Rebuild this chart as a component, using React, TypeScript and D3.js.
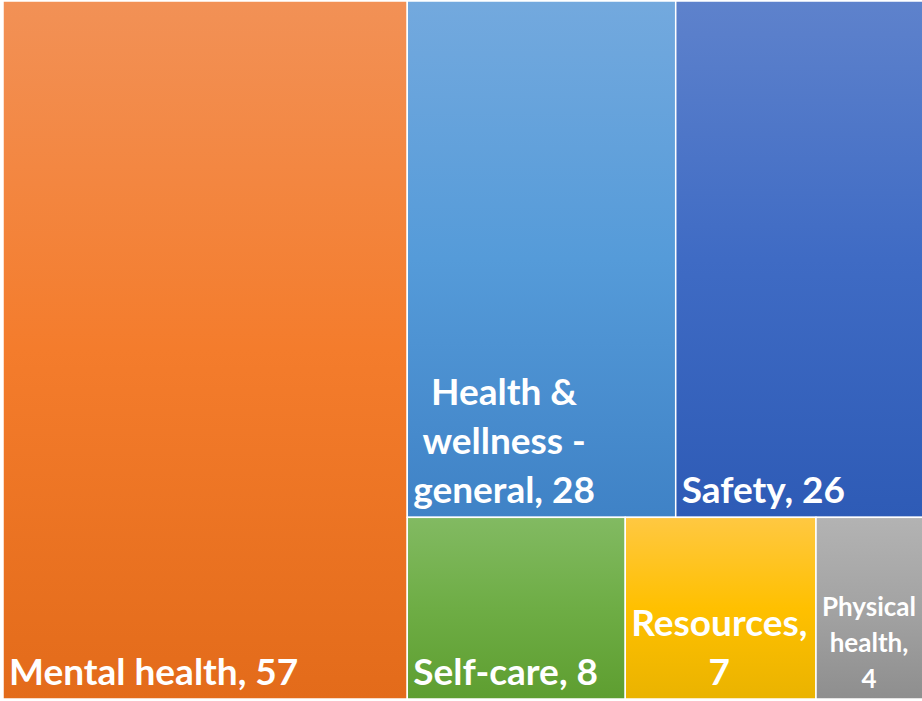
import React, { useEffect, useRef } from "react";
import * as d3 from "d3";

const categories = ["Mental health", "Health & wellness - general", "Safety", "Self-care", "Resources", "Physical health"];
const values = [57, 28, 26, 8, 7, 4];
const groups = ["left", "top", "top", "bottom", "bottom", "bottom"];
const labelLines = [
  ["Mental health, 57"],
  ["Health &", "wellness -", "general, 28"],
  ["Safety, 26"],
  ["Self-care, 8"],
  ["Resources,", "7"],
  ["Physical", "health,", "4"],
];
const gradTop = ["#F29156", "#73A9DE", "#5E82CC", "#82BA62", "#FFC842", "#B3B3B3"];
const gradMid = ["#F47C2C", "#559BD9", "#3F6BC4", "#6EAD45", "#FFC000", "#A3A3A3"];
const gradBot = ["#E36B1A", "#3F82C6", "#2E5BB6", "#5E9E30", "#EAB300", "#8E8E8E"];

const W = 922;
const H = 701;

export default function App() {
  const ref = useRef<SVGSVGElement>(null);
  useEffect(() => {
    const svg = d3.select(ref.current);
    svg.selectAll("*").remove();

    const leaves = categories.map((name, i) => ({ name, value: values[i], idx: i }));
    const data = {
      name: "root",
      children: [
        ...leaves.filter((d) => groups[d.idx] === "left"),
        {
          name: "right",
          children: [
            { name: "top", children: leaves.filter((d) => groups[d.idx] === "top") },
            { name: "bottom", children: leaves.filter((d) => groups[d.idx] === "bottom") },
          ],
        },
      ],
    };
    const root = d3.hierarchy<any>(data).sum((d: any) => d.value || 0);
    d3.treemap<any>().tile(d3.treemapSliceDice).size([922, 698])(root);

    const defs = svg.append("defs");
    categories.forEach((_, i) => {
      const g = defs
        .append("linearGradient")
        .attr("id", "g" + i)
        .attr("x1", 0)
        .attr("y1", 0)
        .attr("x2", 0)
        .attr("y2", 1);
      g.append("stop").attr("offset", "0%").attr("stop-color", gradTop[i]);
      g.append("stop").attr("offset", "50%").attr("stop-color", gradMid[i]);
      g.append("stop").attr("offset", "100%").attr("stop-color", gradBot[i]);
    });

    const gRoot = svg.append("g").attr("transform", "translate(3,1)");
    const cells = gRoot
      .selectAll("g.cell")
      .data(root.leaves())
      .join("g")
      .attr("class", "cell");

    cells
      .append("rect")
      .attr("x", (d: any) => d.x0)
      .attr("y", (d: any) => d.y0)
      .attr("width", (d: any) => d.x1 - d.x0)
      .attr("height", (d: any) => d.y1 - d.y0)
      .attr("fill", (d: any) => `url(#g${d.data.idx})`)
      .attr("stroke", "#FFFFFF")
      .attr("stroke-width", 1.5);

    cells.each(function (d: any) {
      const i = d.data.idx;
      const lines = labelLines[i];
      const small = i === 5;
      const fs = small ? 26 : 37;
      const lh = small ? 36 : 49;
      const bottomPad = small ? 11 : 14;
      const t = d3
        .select(this)
        .append("text")
        .attr("fill", "#FFFFFF")
        .attr("font-family", "Lato, 'Open Sans', sans-serif")
        .attr("font-weight", 700)
        .attr("font-size", fs)
        .attr("text-anchor", "middle");
      const n = lines.length;
      const spans = lines.map((ln, k) =>
        t
          .append("tspan")
          .attr("y", d.y1 - bottomPad - (n - 1 - k) * lh)
          .text(ln)
      );
      let maxW = 0;
      spans.forEach((s) => {
        const node = s.node() as SVGTSpanElement;
        maxW = Math.max(maxW, node.getComputedTextLength());
      });
      const pad = 6;
      let cx = d.x0 + pad + maxW / 2;
      if (maxW + 2 * pad > d.x1 - d.x0) cx = (d.x0 + d.x1) / 2;
      spans.forEach((s) => s.attr("x", cx));
    });
  }, []);

  return (
    <svg ref={ref} width={W} height={H} style={{ position: "absolute", left: 0, top: 0, display: "block" }} />
  );
}
